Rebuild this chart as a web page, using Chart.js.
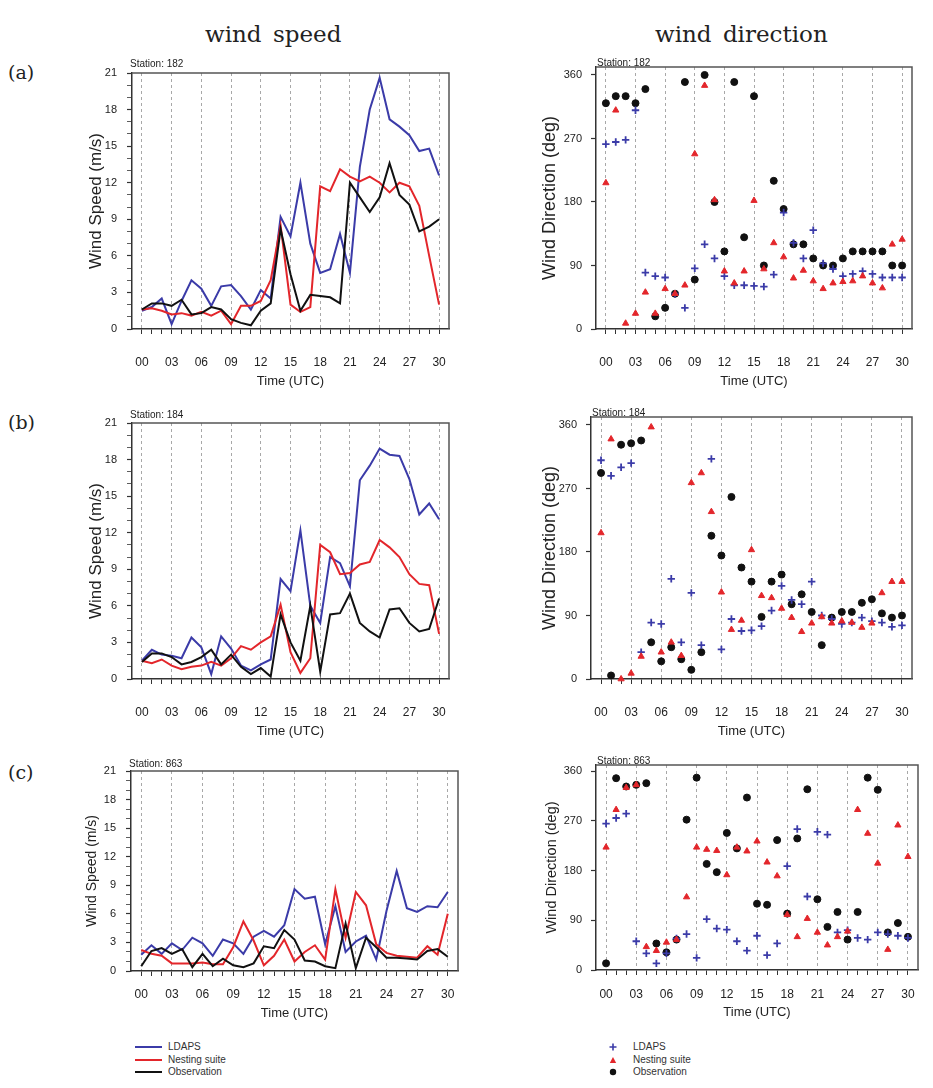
<!DOCTYPE html>
<html><head><meta charset="utf-8">
<script src="https://cdn.jsdelivr.net/npm/chart.js@4.4.0/dist/chart.umd.min.js"></script>
<style>
body{margin:0;background:#fff;width:933px;height:1088px;position:relative;overflow:hidden;font-family:'Liberation Sans',Arial,sans-serif}
canvas{position:absolute}
.h{position:absolute;font-family:'DejaVu Serif',serif;font-size:23px;color:#222;top:21px;word-spacing:4px;white-space:nowrap}
.p{position:absolute;font-family:'DejaVu Serif',serif;font-size:19px;color:#222;left:8px}
.lt{position:absolute;font-size:10px;color:#333;line-height:12px;white-space:nowrap}
.ll{position:absolute;height:2px;width:27px}
</style></head><body>
<div class="h" style="left:205px">wind speed</div>
<div class="h" style="left:655px">wind direction</div>
<div class="p" style="top:61px">(a)</div>
<div class="p" style="top:411px">(b)</div>
<div class="p" style="top:761px">(c)</div>
<canvas id="sa" width="470" height="345" style="left:0;top:50px"></canvas>
<canvas id="da" width="463" height="345" style="left:470px;top:50px"></canvas>
<canvas id="sb" width="470" height="345" style="left:0;top:400px"></canvas>
<canvas id="db" width="463" height="345" style="left:470px;top:400px"></canvas>
<canvas id="sc" width="470" height="285" style="left:0;top:745px"></canvas>
<canvas id="dc" width="463" height="285" style="left:470px;top:745px"></canvas>
<div id="legL"></div><div id="legR"></div>
<script>
// ---------- data ----------
const hours = [0,1,2,3,4,5,6,7,8,9,10,11,12,13,14,15,16,17,18,19,20,21,22,23,24,25,26,27,28,29,30];
const labeledHours = [0,3,6,9,12,15,18,21,24,27,30];
const hourLabels = ['00','03','06','09','12','15','18','21','24','27','30'];
const speedTicks = [0,3,6,9,12,15,18,21];
const dirTicks = [0,90,180,270,360];
const seriesNames = ['LDAPS','Nesting suite','Observation'];
const stations = ['182','184','863'];

const speedA_ldaps = [1.5,1.8,2.5,0.4,2.3,4.0,3.3,1.9,3.5,3.6,2.7,1.6,3.2,2.5,9.2,7.6,12.0,7.0,4.6,4.9,7.8,4.6,13.3,18.0,20.6,17.2,16.6,15.9,14.6,14.8,12.6];
const speedA_nest  = [1.6,1.7,1.5,1.2,1.3,1.1,1.4,1.1,1.5,0.4,1.9,1.9,2.3,4.0,8.5,2.0,1.4,1.8,11.7,11.3,13.1,12.5,12.1,12.5,12.0,11.2,12.0,11.7,10.1,6.0,2.0];
const speedA_obs   = [1.6,2.1,2.1,1.9,2.4,1.2,1.3,1.8,1.6,0.8,0.5,0.3,1.5,2.1,8.2,4.5,1.5,2.8,2.7,2.6,2.1,12.0,10.8,9.6,10.8,13.6,11.0,10.2,8.0,8.4,9.0];

const dirA_ldaps = [262,265,268,310,80,75,73,50,30,86,120,100,75,62,62,61,60,77,165,122,100,140,93,85,75,78,82,78,73,73,73];
const dirA_nest  = [207,310,8,22,52,22,57,50,62,248,345,183,82,65,82,182,85,122,102,72,83,68,57,65,67,68,75,65,58,120,127];
const dirA_obs   = [320,330,330,320,340,18,30,50,350,70,360,180,110,350,130,330,90,210,170,120,120,100,90,90,100,110,110,110,110,90,90];

const speedB_ldaps = [1.5,2.4,2.0,1.9,1.7,3.4,2.6,0.4,3.5,2.5,1.1,0.7,1.2,1.6,8.2,7.2,12.2,6.0,4.6,10.0,9.5,7.6,16.3,17.5,18.9,18.4,18.3,16.4,13.5,14.4,13.1];
const speedB_nest  = [1.5,1.3,1.6,1.1,0.8,1.0,1.1,1.4,1.1,1.7,2.7,2.4,3.0,3.5,6.1,2.2,0.5,1.7,11.0,10.4,8.6,8.7,9.4,9.6,11.4,10.8,10.0,8.6,7.8,7.7,3.7];
const speedB_obs   = [1.4,2.1,2.1,1.8,1.2,1.4,1.8,2.4,1.2,2.0,1.0,0.4,0.9,0.2,5.3,3.0,1.5,6.0,0.6,5.3,5.4,7.0,4.6,3.9,3.4,5.7,5.8,4.6,3.9,4.1,6.6];

const dirB_ldaps = [310,288,300,306,38,80,78,142,52,122,48,312,42,85,68,69,75,97,132,112,106,138,90,85,78,80,87,82,80,74,76];
const dirB_nest  = [207,340,0,8,32,357,38,52,33,278,292,237,123,70,83,183,118,115,100,87,67,79,88,79,82,80,73,79,122,138,138];
const dirB_obs   = [292,5,332,334,338,52,25,45,28,13,38,203,175,258,158,138,88,138,148,106,120,95,48,87,95,95,108,113,93,87,90];

const speedC_ldaps = [1.7,2.7,1.8,2.9,2.2,3.5,2.9,1.6,3.3,2.9,1.8,3.6,4.2,3.6,4.8,8.6,7.6,7.8,2.8,6.8,2.0,3.1,3.7,1.2,6.3,10.5,6.6,6.2,6.8,6.7,8.3];
const speedC_nest  = [2.2,1.8,1.6,0.8,0.8,0.8,0.9,0.7,0.7,2.5,5.2,3.2,0.6,1.6,3.3,1.0,2.0,2.7,1.2,8.6,3.5,8.3,6.9,2.8,1.9,1.6,1.5,1.4,2.6,1.7,6.0];
const speedC_obs   = [0.5,2.1,2.4,1.8,2.3,0.4,1.8,0.5,1.3,0.6,0.4,0.8,2.6,2.4,4.3,3.3,1.1,1.0,0.5,0.3,5.0,0.3,3.5,2.5,1.4,1.4,1.3,1.2,2.1,2.3,1.5];

const dirC_ldaps = [265,275,283,52,30,12,30,57,65,22,92,75,73,52,35,62,27,48,188,255,133,250,245,68,72,58,55,68,65,62,58];
const dirC_nest  = [222,290,330,335,42,35,50,55,132,222,218,216,172,222,215,233,195,170,100,60,93,68,45,60,70,290,247,193,37,262,205];
const dirC_obs   = [12,347,332,335,338,48,32,55,272,348,192,177,248,220,312,120,118,235,102,238,327,128,78,105,55,105,348,326,68,85,60];

// ---------- styling / layout ----------
const COLORS = ['#3b3ba8','#e3262b','#111111'];
const FONT = "'Liberation Sans', Arial, sans-serif";
Chart.defaults.font.family = FONT;
Chart.defaults.color = '#222';

const framePlugin = {
  id: 'frame',
  afterDraw(chart, args, o) {
    const {ctx, chartArea: a} = chart;
    ctx.save();
    ctx.strokeStyle = '#555'; ctx.lineWidth = 1.5;
    ctx.beginPath(); ctx.moveTo(a.left, a.top); ctx.lineTo(a.right, a.top); ctx.lineTo(a.right, a.bottom); ctx.stroke();
    ctx.fillStyle = '#222'; ctx.font = '10px ' + FONT; ctx.textAlign = 'left'; ctx.textBaseline = 'alphabetic';
    ctx.fillText(o.text, a.left + o.dx, a.top - o.dy);
    ctx.restore();
  }
};

function xScale(p) {
  return {
    type: 'linear', min: -1, max: 31,
    afterFit(s) { s.height = p.xH; },
    ticks: { stepSize: 1, autoSkip: false, maxRotation: 0, minRotation: 0, padding: p.xPad, font: {size: 12}, color: '#222',
      callback: (v) => { const k = labeledHours.indexOf(v); return k >= 0 ? hourLabels[k] : ''; } },
    grid: { drawOnChartArea: true, lineWidth: 1, tickLength: 5, tickWidth: 1,
      color: (c) => (c.tick && labeledHours.includes(c.tick.value)) ? '#a8a8a8' : 'rgba(0,0,0,0)',
      tickColor: (c) => (c.tick && c.tick.value >= 0 && c.tick.value <= 30) ? '#333' : 'rgba(0,0,0,0)' },
    border: { display: true, color: '#333', width: 1.5, dash: [3, 3] },
    title: { display: true, text: 'Time (UTC)', font: {size: 13}, color: '#222', padding: {top: 0, bottom: p.xTitlePad} }
  };
}

function makeSpeed(id, p, ldaps, nest, obs, station) {
  const series = [ldaps, nest, obs];
  new Chart(document.getElementById(id), {
    type: 'line',
    data: { datasets: series.map((arr, i) => ({
      label: seriesNames[i], data: hours.map((h, j) => ({x: h, y: arr[j]})),
      borderColor: COLORS[i], borderWidth: 2, pointRadius: 0, fill: false, tension: 0, order: 3 - i
    })) },
    options: {
      responsive: false, animation: false, events: [],
      layout: { padding: {left: 0, top: p.pt, right: p.pr, bottom: 0} },
      plugins: { legend: {display: false}, tooltip: {enabled: false}, frame: {text: 'Station: ' + station, dx: -2, dy: p.sdy} },
      scales: {
        x: xScale(p),
        y: { min: 0, max: 21,
          afterFit(s) { s.width = p.yW; },
          ticks: { stepSize: 1, autoSkip: false, padding: p.yPad, font: {size: 11}, color: '#222',
            callback: (v) => speedTicks.includes(v) ? String(v) : '' },
          grid: { drawOnChartArea: false, tickLength: 5, tickColor: '#333',
            tickWidth: (c) => (c.tick && speedTicks.includes(c.tick.value)) ? 1.2 : 0.8 },
          border: { display: true, color: '#333', width: 1.5 },
          title: { display: true, text: 'Wind Speed (m/s)', font: {size: p.yTitleSize}, color: '#222', padding: {top: p.yTitlePad, bottom: 0} }
        }
      }
    },
    plugins: [framePlugin]
  });
}

function makeDir(id, p, ldaps, nest, obs, station) {
  const series = [ldaps, nest, obs];
  const styles = [
    {pointStyle: 'cross', pointRadius: 3.7, pointBorderWidth: 1.8, borderColor: COLORS[0], backgroundColor: COLORS[0], order: 2},
    {pointStyle: 'triangle', pointRadius: 3.6, pointBorderWidth: 1, borderColor: COLORS[1], backgroundColor: COLORS[1], order: 1},
    {pointStyle: 'circle', pointRadius: 3.5, pointBorderWidth: 1, borderColor: COLORS[2], backgroundColor: COLORS[2], order: 3}
  ];
  new Chart(document.getElementById(id), {
    type: 'scatter',
    data: { datasets: series.map((arr, i) => Object.assign({
      label: seriesNames[i], data: hours.map((h, j) => ({x: h, y: arr[j]})), clip: 8
    }, styles[i])) },
    options: {
      responsive: false, animation: false, events: [],
      layout: { padding: {left: 0, top: p.pt, right: p.pr, bottom: 0} },
      plugins: { legend: {display: false}, tooltip: {enabled: false}, frame: {text: 'Station: ' + station, dx: 1, dy: 1} },
      scales: {
        x: xScale(p),
        y: { min: 0, max: p.ymax,
          afterFit(s) { s.width = p.yW; },
          ticks: { stepSize: 90, includeBounds: false, autoSkip: false, padding: p.yPad, font: {size: 11}, color: '#222',
            callback: (v) => dirTicks.includes(v) ? String(v) : '' },
          grid: { drawOnChartArea: false, tickLength: 5, tickColor: '#333', tickWidth: 1.2 },
          border: { display: true, color: '#333', width: 1.5 },
          title: { display: true, text: 'Wind Direction (deg)', font: {size: p.yTitleSize}, color: '#222', padding: {top: p.yTitlePad, bottom: 0} }
        }
      }
    },
    plugins: [framePlugin]
  });
}

const LS = {pt: 23, pr: 12, yW: 132, xH: 66, xPad: 21, xTitlePad: 6, yPad: 10, yTitleSize: 17, yTitlePad: 85.8, sdy: 6};
makeSpeed('sa', LS, speedA_ldaps, speedA_nest, speedA_obs, stations[0]);
makeSpeed('sb', Object.assign({}, LS, {sdy: 5}), speedB_ldaps, speedB_nest, speedB_obs, stations[1]);
makeSpeed('sc', {pt: 26, pr: 12, yW: 131, xH: 59, xPad: 11.8, xTitlePad: 9.2, yPad: 10, yTitleSize: 14, yTitlePad: 83.6, sdy: 4},
  speedC_ldaps, speedC_nest, speedC_obs, stations[2]);

makeDir('da', {pt: 17, pr: 15, yW: 126, xH: 66, xPad: 21, xTitlePad: 6, yPad: 9, yTitleSize: 18, yTitlePad: 69.2, ymax: 371.3},
  dirA_ldaps, dirA_nest, dirA_obs, stations[0]);
makeDir('db', {pt: 17, pr: 15, yW: 121, xH: 66, xPad: 21, xTitlePad: 6, yPad: 9, yTitleSize: 18, yTitlePad: 69.2, ymax: 371.3},
  dirB_ldaps, dirB_nest, dirB_obs, stations[1]);
makeDir('dc', {pt: 20, pr: 15, yW: 126, xH: 60, xPad: 12.8, xTitlePad: 10.2, yPad: 9, yTitleSize: 14.5, yTitlePad: 73.3, ymax: 370.9},
  dirC_ldaps, dirC_nest, dirC_obs, stations[2]);

// ---------- legends (HTML) ----------
const legRows = [1047, 1059.5, 1072];
const legL = document.getElementById('legL');
const legR = document.getElementById('legR');
const markers = [
  '<svg width="10" height="10" style="position:absolute"><path d="M5 1.5V8.5M1.5 5H8.5" stroke="' + COLORS[0] + '" stroke-width="1.6"/></svg>',
  '<svg width="10" height="10" style="position:absolute"><path d="M5 2L8.2 8H1.8Z" fill="' + COLORS[1] + '"/></svg>',
  '<svg width="10" height="10" style="position:absolute"><circle cx="5" cy="5" r="3.2" fill="' + COLORS[2] + '"/></svg>'
];
seriesNames.forEach((name, i) => {
  const y = legRows[i];
  legL.insertAdjacentHTML('beforeend',
    '<div class="ll" style="left:135px;top:' + (y - 1) + 'px;background:' + COLORS[i] + '"></div>' +
    '<div class="lt" style="left:168px;top:' + (y - 6) + 'px">' + name + '</div>');
  legR.insertAdjacentHTML('beforeend',
    '<div style="position:absolute;left:608px;top:' + (y - 5) + 'px;width:10px;height:10px">' + markers[i] + '</div>' +
    '<div class="lt" style="left:633px;top:' + (y - 6) + 'px">' + name + '</div>');
});
</script>
</body></html>
